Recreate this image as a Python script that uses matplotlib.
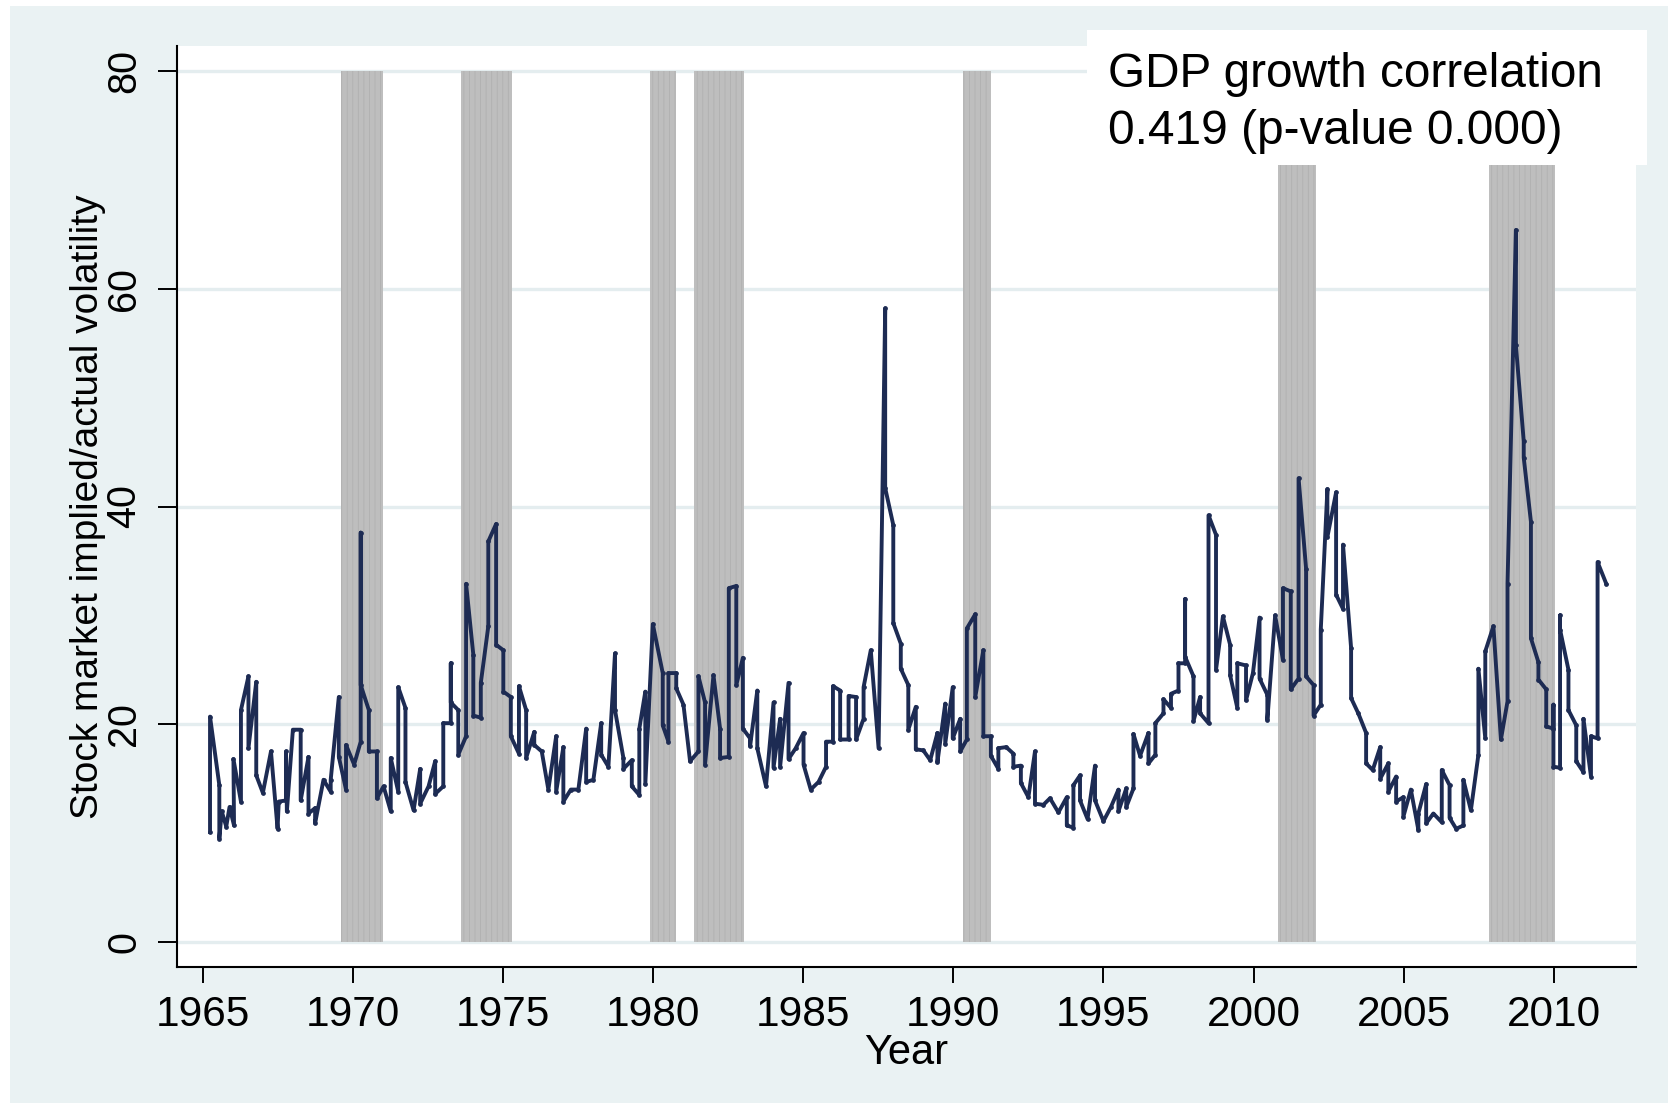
import numpy as np
import matplotlib.pyplot as plt
from matplotlib.patches import Rectangle

plt.rcParams['font.family'] = ['Liberation Sans', 'DejaVu Sans']
plt.rcParams['hatch.linewidth'] = 0.6

# monthly volatility, x = quarter position (3 months share one x in the original)
yr = [1965.24, 1965.24, 1965.55, 1965.55, 1965.63, 1965.78, 1965.89, 1966.04, 1966.02, 1966.27,
      1966.27, 1966.52, 1966.52, 1966.78, 1966.78, 1967.00, 1967.27, 1967.49, 1967.53, 1967.77,
      1967.77, 1967.80, 1968.00, 1968.26, 1968.26, 1968.52, 1968.52, 1968.74, 1968.74, 1969.02,
      1969.26, 1969.26, 1969.53, 1969.53, 1969.77, 1969.77, 1970.04, 1970.26, 1970.26, 1970.26,
      1970.53, 1970.53, 1970.80, 1970.80, 1971.02, 1971.26, 1971.26, 1971.51, 1971.51, 1971.75,
      1971.75, 1972.02, 1972.24, 1972.24, 1972.52, 1972.74, 1972.74, 1973.01, 1973.01, 1973.26,
      1973.26, 1973.26, 1973.51, 1973.51, 1973.77, 1973.77, 1974.01, 1974.01, 1974.26, 1974.26,
      1974.51, 1974.51, 1974.77, 1974.77, 1975.01, 1975.01, 1975.26, 1975.26, 1975.53, 1975.53,
      1975.77, 1975.77, 1976.04, 1976.04, 1976.29, 1976.51, 1976.77, 1976.77, 1977.01, 1977.01,
      1977.26, 1977.51, 1977.77, 1977.77, 1978.01, 1978.27, 1978.27, 1978.51, 1978.73, 1978.73,
      1979.01, 1979.01, 1979.29, 1979.29, 1979.54, 1979.54, 1979.74, 1979.74, 1979.99,
      1980.32, 1980.32, 1980.51, 1980.51, 1980.77, 1980.77, 1981.01, 1981.23, 1981.51, 1981.51,
      1981.73, 1981.73, 1982.01, 1982.23, 1982.23, 1982.52, 1982.52, 1982.77, 1982.77, 1982.99,
      1982.99, 1983.23, 1983.23, 1983.47, 1983.47, 1983.76, 1984.01, 1984.01, 1984.23, 1984.23,
      1984.51, 1984.51, 1984.75, 1985.01, 1985.01, 1985.25, 1985.51, 1985.76, 1985.76, 1985.99,
      1985.99, 1986.23, 1986.23, 1986.51, 1986.51, 1986.76, 1986.76, 1987.01, 1987.01, 1987.25,
      1987.51, 1987.73, 1987.73, 1988.00, 1988.00, 1988.25, 1988.25, 1988.50, 1988.50, 1988.75,
      1988.75, 1989.00, 1989.23, 1989.47, 1989.47, 1989.73, 1989.73, 1989.98, 1989.98, 1990.23,
      1990.23, 1990.45, 1990.45, 1990.73, 1990.73, 1991.00, 1991.00, 1991.25, 1991.25, 1991.50,
      1991.50, 1991.76, 1992.00, 1992.00, 1992.25, 1992.25, 1992.50, 1992.72, 1992.72, 1993.00,
      1993.22, 1993.50, 1993.78, 1993.78, 1994.00, 1994.00, 1994.22, 1994.22, 1994.47, 1994.72,
      1994.72, 1995.00, 1995.25, 1995.50, 1995.50, 1995.76, 1995.76, 1996.00, 1996.00, 1996.22,
      1996.50, 1996.50,
      1996.73, 1996.73, 1997.00, 1997.00, 1997.25, 1997.25, 1997.50, 1997.50, 1997.72, 1997.72,
      1997.72, 1998.00, 1998.00, 1998.22, 1998.22, 1998.50, 1998.50, 1998.75, 1998.75, 1998.98,
      1999.22, 1999.22, 1999.46, 1999.46, 1999.75, 1999.75, 1999.98, 2000.20, 2000.20, 2000.46,
      2000.46, 2000.72, 2000.98, 2000.98, 2001.24, 2001.24, 2001.50, 2001.50, 2001.75, 2001.75,
      2002.00, 2002.00, 2002.24, 2002.24, 2002.46, 2002.46, 2002.75, 2002.75, 2002.98, 2002.98,
      2003.25, 2003.25, 2003.49, 2003.75, 2003.75, 2003.97, 2004.22, 2004.22, 2004.49, 2004.49,
      2004.75, 2004.75, 2004.99, 2004.99, 2005.24, 2005.49, 2005.49, 2005.75, 2005.75, 2005.99,
      2006.27, 2006.27, 2006.53, 2006.53, 2006.75, 2006.99, 2006.99, 2007.24, 2007.49, 2007.49,
      2007.72, 2007.72, 2007.99, 2008.24, 2008.46, 2008.46, 2008.74, 2008.74, 2009.00, 2009.00,
      2009.24, 2009.24, 2009.49, 2009.49, 2009.75, 2009.75, 2009.99, 2009.99, 2009.99, 2010.21,
      2010.21, 2010.21, 2010.49, 2010.49, 2010.75, 2010.75, 2010.99, 2010.99, 2011.24, 2011.24,
      2011.46, 2011.46, 2011.75]

vol = [10.1, 20.7, 14.4, 9.5, 12.0, 10.6, 12.4, 10.7, 16.8, 12.9,
       21.3, 24.4, 17.8, 23.9, 15.3, 13.7, 17.5, 10.4, 12.9, 13.0,
       17.5, 12.0, 19.5, 19.5, 13.0, 17.0, 11.8, 12.3, 10.9, 14.9,
       13.8, 14.9, 22.5, 17.0, 14.0, 18.1, 16.3, 18.4, 37.6, 23.6,
       21.3, 17.5, 17.5, 13.2, 14.3, 12.0, 16.9, 13.8, 23.4, 21.5,
       14.7, 12.1, 15.9, 12.7, 14.3, 16.6, 13.6, 14.3, 20.1, 20.1,
       25.6, 22.0, 21.3, 17.2, 18.9, 32.9, 26.4, 20.8, 20.6, 23.8,
       29.0, 36.8, 38.4, 27.3, 26.8, 23.0, 22.5, 18.9, 17.3, 23.5,
       21.3, 16.9, 19.3, 18.1, 17.5, 14.0, 18.9, 13.8, 17.9, 12.9,
       14.0, 14.0, 19.6, 14.7, 14.9, 20.1, 17.2, 16.1, 26.5, 21.3,
       16.9, 15.9, 16.7, 14.3, 13.5, 19.6, 23.0, 14.5, 29.2,
       24.7, 19.9, 18.4, 24.7, 24.7, 23.3, 21.8, 16.6, 17.5, 24.4,
       22.0, 16.3, 24.5, 19.6, 16.9, 17.0, 32.5, 32.7, 23.6, 26.1,
       19.6, 18.7, 18.0, 23.1, 17.8, 14.3, 22.0, 16.0, 20.5, 16.1,
       23.8, 16.8, 17.8, 19.2, 16.3, 14.0, 14.7, 16.1, 18.4, 18.4,
       23.5, 23.1, 18.6, 18.6, 22.6, 22.5, 18.6, 20.5, 23.4, 26.8,
       17.8, 58.2, 41.7, 38.3, 29.3, 27.4, 25.1, 23.6, 19.5, 21.6,
       17.7, 17.6, 16.7, 19.2, 16.5, 21.9, 18.2, 23.4, 18.7, 20.5,
       17.5, 18.6, 28.8, 30.1, 22.5, 26.8, 18.9, 18.9, 17.1, 15.9,
       17.8, 17.9, 17.3, 16.1, 16.2, 14.6, 13.3, 17.5, 12.7, 12.6,
       13.2, 11.9, 13.3, 10.7, 10.5, 14.4, 15.3, 13.0, 11.3, 16.2,
       13.0, 11.1, 12.4, 14.0, 12.0, 14.1, 12.4, 14.1, 19.1, 17.1,
       19.2, 16.4,
       17.2, 20.1, 21.0, 22.3, 21.5, 22.8, 23.1, 25.6, 25.6, 31.5,
       26.2, 24.4, 20.3, 22.5, 21.0, 20.1, 39.2, 37.4, 25.0, 29.9,
       27.3, 24.5, 21.5, 25.6, 25.4, 22.2, 24.7, 29.8, 24.2, 22.7,
       20.4, 30.0, 25.9, 32.5, 32.2, 23.2, 24.2, 42.6, 34.3, 24.4,
       23.6, 20.8, 21.8, 28.7, 41.6, 37.2, 41.3, 31.9, 30.6, 36.5,
       27.0, 22.4, 21.0, 19.2, 16.4, 15.8, 17.9, 15.0, 16.4, 13.8,
       15.2, 12.9, 13.3, 11.5, 14.0, 10.3, 11.8, 14.5, 10.9, 11.8,
       11.0, 15.8, 14.4, 11.4, 10.4, 10.7, 14.9, 12.1, 17.2, 25.1,
       18.7, 26.7, 29.0, 18.6, 22.1, 32.9, 65.4, 54.8, 46.0, 44.5,
       38.6, 27.9, 25.7, 24.1, 23.2, 19.8, 19.6, 21.8, 16.1, 16.0,
       30.0, 28.7, 25.0, 21.3, 19.9, 16.6, 15.6, 20.5, 15.2, 18.9,
       18.7, 34.9, 32.9]

# recession bands
rec_start = [1969.6, 1973.6, 1979.88, 1981.36, 1990.33, 2000.83, 2007.85]
rec_end = [1971.0, 1975.3, 1980.76, 1983.03, 1991.25, 2002.07, 2010.03]

xticks = [1965, 1970, 1975, 1980, 1985, 1990, 1995, 2000, 2005, 2010]
yticks = [0, 20, 40, 60, 80]

bg = '#EAF2F3'
navy = '#1d2b53'

fig = plt.figure(figsize=(16.68, 11.12), dpi=100, facecolor='white')
fig.add_artist(Rectangle((10 / 1668, 1 - 1103 / 1112), 1, 1097 / 1112,
                         transform=fig.transFigure, facecolor=bg, edgecolor='none', zorder=-5))

ax = fig.add_axes([176.7 / 1668, 1 - 966.7 / 1112, (1636 - 176.7) / 1668, (966.7 - 46) / 1112])
ax.set_facecolor('white')

for yv in yticks:
    ax.axhline(yv, color='#E4EDEF', lw=2.4, zorder=1)

for s, e in zip(rec_start, rec_end):
    ax.bar((s + e) / 2, 80, width=e - s, bottom=0, color='#BEBEBE', edgecolor='#B0B0B0',
           hatch='|||', linewidth=0, zorder=2)

ax.plot(yr, vol, color=navy, lw=2.8, marker='o', ms=2.4, zorder=3)

ax.set_xlim(1964.13, 2012.74)
ax.set_ylim(-2.27, 82.3)
ax.set_xticks(xticks)
ax.set_yticks(yticks)
ax.tick_params(axis='x', labelsize=30.5, length=11.3, width=1.4, pad=9)
ax.tick_params(axis='y', labelsize=28.5, length=13.7, width=1.4, pad=10.5, labelrotation=90)
for lab in ax.get_yticklabels():
    lab.set_va('center')

for side in ['top', 'right']:
    ax.spines[side].set_visible(False)
for side in ['left', 'bottom']:
    ax.spines[side].set_linewidth(1.5)

ax.set_xlabel('Year', fontsize=30)
ax.xaxis.set_label_coords(0.5, -0.1057)
ax.xaxis.label.set_va('baseline')
ax.set_ylabel('Stock market implied/actual volatility', fontsize=28)
ax.yaxis.set_label_coords(-0.061, 0.5)
ax.yaxis.label.set_va('center')

# annotation box
fig.add_artist(Rectangle((1087 / 1668, 1 - 165 / 1112), 560 / 1668, 135 / 1112,
                         transform=fig.transFigure, facecolor='white', edgecolor='none', zorder=5))
fig.text(1108 / 1668, 1 - 87 / 1112, 'GDP growth correlation', fontsize=34.4, va='baseline', zorder=6)
fig.text(1108 / 1668, 1 - 144 / 1112, '0.419 (p-value 0.000)', fontsize=34.4, va='baseline', zorder=6)

fig.savefig('out.png', dpi=100, facecolor='white')
